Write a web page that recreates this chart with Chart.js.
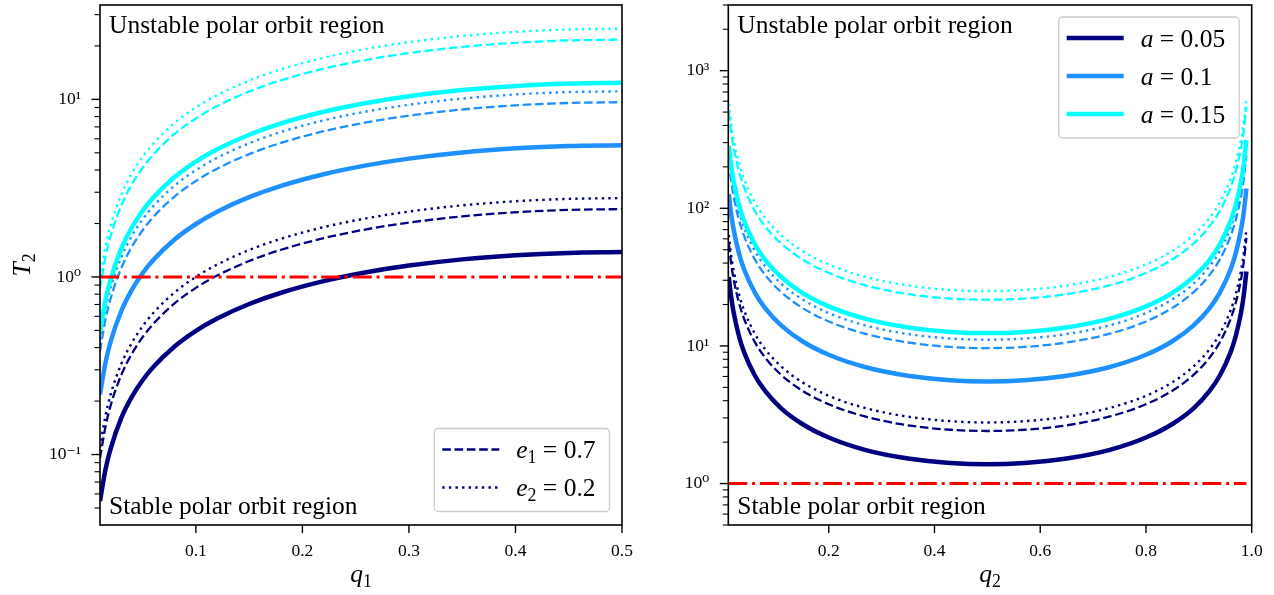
<!DOCTYPE html>
<html>
<head>
<meta charset="utf-8">
<script src="https://cdn.jsdelivr.net/npm/chart.js@4.4.0/dist/chart.umd.min.js"></script>
<style>
  body { margin: 0; background: #fff; }
  #wrap { position: relative; width: 1274px; height: 595px; }
  canvas { position: absolute; top: 0; }
  #left { left: 0; }
  #right { left: 640px; }
</style>
</head>
<body>
<div id="wrap">
  <canvas id="left" width="640" height="595"></canvas>
  <canvas id="right" width="634" height="595"></canvas>
</div>
<script>
// ---- data ----
// left panel: T2 against q1 (solid = a only, dashed = e1 0.7, dotted = e2 0.2)
const q1 = [0.01, 0.015, 0.02, 0.03, 0.04, 0.05, 0.06, 0.08, 0.1, 0.12, 0.15, 0.18, 0.22, 0.26, 0.3, 0.35, 0.4, 0.45, 0.5];
const q1_a005 = [0.0546, 0.0816, 0.108, 0.161, 0.212, 0.262, 0.311, 0.406, 0.497, 0.583, 0.704, 0.815, 0.947, 1.062, 1.159, 1.256, 1.325, 1.366, 1.38];
const q1_a005_e1 = [0.0954, 0.142, 0.189, 0.281, 0.370, 0.458, 0.544, 0.710, 0.868, 1.018, 1.229, 1.423, 1.654, 1.855, 2.024, 2.193, 2.314, 2.386, 2.41];
const q1_a005_e2 = [0.110, 0.164, 0.218, 0.324, 0.427, 0.528, 0.627, 0.818, 1.001, 1.174, 1.418, 1.641, 1.908, 2.139, 2.335, 2.530, 2.669, 2.752, 2.78];
const q1_a01 = [0.218, 0.326, 0.433, 0.643, 0.848, 1.049, 1.245, 1.625, 1.987, 2.332, 2.815, 3.259, 3.789, 4.248, 4.637, 5.023, 5.299, 5.465, 5.52];
const q1_a01_e1 = [0.382, 0.570, 0.756, 1.122, 1.481, 1.832, 2.175, 2.838, 3.470, 4.072, 4.916, 5.691, 6.617, 7.419, 8.098, 8.772, 9.254, 9.544, 9.64];
const q1_a01_e2 = [0.440, 0.656, 0.870, 1.292, 1.705, 2.109, 2.504, 3.268, 3.996, 4.689, 5.661, 6.553, 7.619, 8.543, 9.324, 10.10, 10.66, 10.99, 11.1];
const q1_a015 = [0.491, 0.733, 0.972, 1.443, 1.905, 2.356, 2.797, 3.651, 4.464, 5.238, 6.324, 7.321, 8.511, 9.543, 10.42, 11.28, 11.90, 12.28, 12.4];
const q1_a015_e1 = [0.859, 1.282, 1.701, 2.526, 3.333, 4.123, 4.896, 6.388, 7.812, 9.166, 11.07, 12.81, 14.89, 16.70, 18.23, 19.75, 20.83, 21.48, 21.7];
const q1_a015_e2 = [0.990, 1.478, 1.960, 2.910, 3.840, 4.750, 5.640, 7.360, 9.000, 10.56, 12.75, 14.76, 17.16, 19.24, 21.00, 22.75, 24.00, 24.75, 25.0];

// right panel: T2 against q2
const q2 = [0.011, 0.015, 0.02, 0.03, 0.04, 0.06, 0.08, 0.11, 0.15, 0.2, 0.27, 0.35, 0.43, 0.5, 0.57, 0.65, 0.73, 0.8, 0.85, 0.89, 0.92, 0.94, 0.96, 0.97, 0.98, 0.985, 0.99];
const q2_a005 = [31.7, 23.35, 17.6, 11.86, 8.98, 6.12, 4.69, 3.52, 2.71, 2.16, 1.75, 1.52, 1.41, 1.38, 1.41, 1.52, 1.75, 2.16, 2.71, 3.52, 4.69, 6.12, 8.98, 11.86, 17.6, 23.35, 34.8];
const q2_a005_e1 = [55.4, 40.8, 30.7, 20.7, 15.7, 10.7, 8.19, 6.16, 4.73, 3.77, 3.06, 2.65, 2.46, 2.41, 2.46, 2.65, 3.06, 3.77, 4.73, 6.16, 8.19, 10.7, 15.7, 20.7, 30.7, 40.8, 60.9];
const q2_a005_e2 = [63.9, 47.0, 35.5, 23.9, 18.1, 12.3, 9.44, 7.10, 5.45, 4.34, 3.53, 3.06, 2.84, 2.78, 2.84, 3.06, 3.53, 4.34, 5.45, 7.10, 9.44, 12.3, 18.1, 23.9, 35.5, 47.0, 70.2];
const q2_a01 = [126.8, 93.4, 70.4, 47.4, 35.9, 24.5, 18.75, 14.10, 10.82, 8.63, 7.00, 6.07, 5.63, 5.52, 5.63, 6.07, 7.00, 8.63, 10.82, 14.10, 18.75, 24.5, 35.9, 47.4, 70.4, 93.4, 139.4];
const q2_a01_e1 = [221.5, 163.1, 123.0, 82.8, 62.8, 42.7, 32.7, 24.6, 18.9, 15.06, 12.22, 10.59, 9.83, 9.64, 9.83, 10.59, 12.22, 15.06, 18.9, 24.6, 32.7, 42.7, 62.8, 82.8, 123.0, 163.1, 243.4];
const q2_a01_e2 = [255.1, 187.8, 141.6, 95.4, 72.3, 49.2, 37.7, 28.3, 21.8, 17.34, 14.07, 12.20, 11.32, 11.1, 11.32, 12.20, 14.07, 17.34, 21.8, 28.3, 37.7, 49.2, 72.3, 95.4, 141.6, 187.8, 280.3];
const q2_a015 = [285.0, 209.8, 158.2, 106.5, 80.7, 55.0, 42.1, 31.7, 24.3, 19.38, 15.72, 13.63, 12.65, 12.4, 12.65, 13.63, 15.72, 19.38, 24.3, 31.7, 42.1, 55.0, 80.7, 106.5, 158.2, 209.8, 313.1];
const q2_a015_e1 = [498.7, 367.2, 276.8, 186.4, 141.3, 96.2, 73.7, 55.4, 42.6, 33.9, 27.5, 23.8, 22.1, 21.7, 22.1, 23.8, 27.5, 33.9, 42.6, 55.4, 73.7, 96.2, 141.3, 186.4, 276.8, 367.2, 547.9];
const q2_a015_e2 = [574.5, 423.0, 318.9, 214.8, 162.8, 110.8, 84.9, 63.9, 49.0, 39.1, 31.7, 27.5, 25.5, 25.0, 25.5, 27.5, 31.7, 39.1, 49.0, 63.9, 84.9, 110.8, 162.8, 214.8, 318.9, 423.0, 631.0];

// T2 = 1 threshold
const thresholdX1 = [0.01, 0.5];
const thresholdX2 = [0.01, 0.99];
const thresholdY = [1, 1];

// ticks
const q1Ticks = [0.1, 0.2, 0.3, 0.4, 0.5];
const q2Ticks = [0.2, 0.4, 0.6, 0.8, 1.0];
const y1Decades = [0.1, 1, 10];
const y2Decades = [1, 10, 100, 1000];

const SERIF = '"Liberation Serif", "Times New Roman", "DejaVu Serif", serif';
const NAVY = '#000080', BLUE = '#1e90ff', CYAN = '#00ffff', RED = '#ff0000';
const SOLID = { width: 4.5, dash: [] };
const DASHED = { width: 2.3, dash: [8.6, 3.7] };
const DOTTED = { width: 2.4, dash: [2.4, 4.2] };
const DASHDOT = { width: 3, dash: [19, 4.8, 3, 4.8] };

const SUP = { '-': '\u207b', '0': '\u2070', '1': '\u00b9', '2': '\u00b2', '3': '\u00b3' };
function decadeLabel(v) {
  const e = Math.round(Math.log10(v));
  return '10' + String(e).split('').map(c => SUP[c]).join('');
}

function series(xs, ys, color, style) {
  return {
    data: xs.map((x, i) => ({ x: x, y: ys[i] })),
    borderColor: color,
    borderWidth: style.width,
    borderDash: style.dash,
    pointRadius: 0,
    fill: false,
    cubicInterpolationMode: 'monotone'
  };
}

function withOrder(list) {
  // first plotted at the bottom, like matplotlib
  list.forEach((d, i) => { d.order = list.length - i; });
  return list;
}

function richWidth(ctx, parts, size) {
  let w = 0;
  parts.forEach(([t, k]) => {
    const s = k === 'sub' ? size * 0.7 : size;
    ctx.font = (k === 'i' ? 'italic ' : '') + s + 'px ' + SERIF;
    w += ctx.measureText(t).width;
  });
  return w;
}

function drawRich(ctx, parts, x, y, size) {
  parts.forEach(([t, k]) => {
    const s = k === 'sub' ? size * 0.7 : size;
    ctx.font = (k === 'i' ? 'italic ' : '') + s + 'px ' + SERIF;
    ctx.fillText(t, x, k === 'sub' ? y + size * 0.2 : y);
    x += ctx.measureText(t).width;
  });
}

function roundRect(ctx, x, y, w, h, r) {
  ctx.beginPath();
  ctx.moveTo(x + r, y);
  ctx.arcTo(x + w, y, x + w, y + h, r);
  ctx.arcTo(x + w, y + h, x, y + h, r);
  ctx.arcTo(x, y + h, x, y, r);
  ctx.arcTo(x, y, x + w, y, r);
  ctx.closePath();
}

// frame, tick marks, axis titles, region notes and the inner legend
const decor = {
  id: 'decor',
  afterDraw(chart, args, opts) {
    const ctx = chart.ctx, a = chart.chartArea;
    const xs = chart.scales.x, ys = chart.scales.y;
    ctx.save();
    ctx.strokeStyle = '#000';

    ctx.lineWidth = 1.4;
    xs.ticks.forEach(t => {
      const x = xs.getPixelForValue(t.value);
      ctx.beginPath(); ctx.moveTo(x, a.bottom); ctx.lineTo(x, a.bottom + 8); ctx.stroke();
    });
    const e0 = Math.floor(Math.log10(ys.min)), e1 = Math.ceil(Math.log10(ys.max));
    for (let e = e0; e <= e1; e++) {
      for (let k = 1; k <= 9; k++) {
        const v = k * Math.pow(10, e);
        if (v < ys.min * 0.999 || v > ys.max * 1.001) continue;
        const y = ys.getPixelForValue(v);
        ctx.lineWidth = k === 1 ? 1.4 : 1.1;
        ctx.beginPath(); ctx.moveTo(a.left, y); ctx.lineTo(a.left - (k === 1 ? 8.5 : 5.5), y); ctx.stroke();
      }
    }

    ctx.lineWidth = 1.6;
    ctx.strokeRect(a.left, a.top, a.right - a.left, a.bottom - a.top);

    ctx.fillStyle = '#000';
    ctx.textBaseline = 'alphabetic';
    ctx.textAlign = 'left';

    // axis titles
    const ts = 25.5;
    const xw = richWidth(ctx, opts.xTitle, ts);
    drawRich(ctx, opts.xTitle, (a.left + a.right) / 2 - xw / 2, 582, ts);
    if (opts.yTitle) {
      const yw = richWidth(ctx, opts.yTitle, ts);
      ctx.save();
      ctx.translate(30, (a.top + a.bottom) / 2);
      ctx.rotate(-Math.PI / 2);
      drawRich(ctx, opts.yTitle, -yw / 2, 0, ts);
      ctx.restore();
    }

    ctx.font = '25.5px ' + SERIF;
    ctx.fillText(opts.topNote, a.left + 9, a.top + 28);
    ctx.fillText(opts.bottomNote, a.left + 9, a.bottom - 11);

    const lg = opts.legend, fs = 25.5;
    const tw = Math.max(...lg.items.map(it => richWidth(ctx, it.label, fs)));
    const bw = 82 + tw + 14, bh = 21 + 38 * (lg.items.length - 1) + 24;
    const bx = a.right - 12.5 - bw;
    const by = lg.corner === 'top' ? a.top + 12 : a.bottom - 13.5 - bh;
    roundRect(ctx, bx, by, bw, bh, 4);
    ctx.fillStyle = 'rgba(255,255,255,0.85)';
    ctx.fill();
    ctx.strokeStyle = '#cccccc';
    ctx.lineWidth = 1.3;
    ctx.stroke();
    lg.items.forEach((it, i) => {
      const ry = by + 21 + 38 * i;
      ctx.strokeStyle = it.color;
      ctx.lineWidth = it.style.width;
      ctx.setLineDash(it.style.dash);
      ctx.beginPath(); ctx.moveTo(bx + 8, ry); ctx.lineTo(bx + 65, ry); ctx.stroke();
      ctx.setLineDash([]);
      ctx.fillStyle = '#000';
      drawRich(ctx, it.label, bx + 82, ry + 8.5, fs);
    });
    ctx.restore();
  }
};

function makeChart(id, cfg) {
  const tickFont = { family: SERIF, size: 17.5 };
  return new Chart(document.getElementById(id), {
    type: 'line',
    data: { datasets: cfg.datasets },
    plugins: [decor],
    options: {
      responsive: false,
      animation: false,
      events: [],
      layout: { padding: { left: 0, top: 5, right: cfg.padRight, bottom: 0 } },
      plugins: {
        legend: { display: false },
        tooltip: { enabled: false },
        decor: {
          topNote: 'Unstable polar orbit region',
          bottomNote: 'Stable polar orbit region',
          xTitle: cfg.xTitle,
          yTitle: cfg.yTitle,
          legend: cfg.legend
        }
      },
      scales: {
        x: {
          type: 'linear',
          min: cfg.xMin, max: cfg.xMax,
          grid: { display: false, drawTicks: false },
          border: { display: false },
          afterBuildTicks: s => { s.ticks = cfg.xTicks.map(v => ({ value: v })); },
          ticks: { autoSkip: false, maxRotation: 0, padding: 16, color: '#000', font: tickFont,
                   callback: v => Number(v).toFixed(1) },
          title: { display: false },
          afterFit: s => { s.height = 70; s.paddingLeft = 0; s.paddingRight = 0; }
        },
        y: {
          type: 'logarithmic',
          min: cfg.yMin, max: cfg.yMax,
          grid: { display: false, drawTicks: false },
          border: { display: false },
          afterBuildTicks: s => { s.ticks = cfg.yTicks.map(v => ({ value: v, major: true })); },
          ticks: { autoSkip: false, padding: 19, color: '#000', font: tickFont, callback: v => decadeLabel(v) },
          title: { display: false },
          afterFit: s => { s.width = cfg.yWidth; s.paddingTop = 0; s.paddingBottom = 0; }
        }
      }
    }
  });
}

makeChart('left', {
  xMin: 0.01, xMax: 0.5, yMin: 0.0401, yMax: 34,
  xTicks: q1Ticks, yTicks: y1Decades,
  xTitle: [['q', 'i'], ['1', 'sub']],
  yTitle: [['T', 'i'], ['2', 'sub']],
  yWidth: 100, padRight: 18,
  datasets: withOrder([
    series(q1, q1_a005, NAVY, SOLID),
    series(q1, q1_a005_e1, NAVY, DASHED),
    series(q1, q1_a005_e2, NAVY, DOTTED),
    series(q1, q1_a01, BLUE, SOLID),
    series(q1, q1_a01_e1, BLUE, DASHED),
    series(q1, q1_a01_e2, BLUE, DOTTED),
    series(q1, q1_a015, CYAN, SOLID),
    series(q1, q1_a015_e1, CYAN, DASHED),
    series(q1, q1_a015_e2, CYAN, DOTTED),
    series(thresholdX1, thresholdY, RED, DASHDOT)
  ]),
  legend: {
    corner: 'bottom',
    items: [
      { color: NAVY, style: DASHED, label: [['e', 'i'], ['1', 'sub'], [' = 0.7', '']] },
      { color: NAVY, style: DOTTED, label: [['e', 'i'], ['2', 'sub'], [' = 0.2', '']] }
    ]
  }
});

makeChart('right', {
  xMin: 0.01, xMax: 1.0, yMin: 0.5, yMax: 3000,
  xTicks: q2Ticks, yTicks: y2Decades,
  xTitle: [['q', 'i'], ['2', 'sub']],
  yTitle: null,
  yWidth: 88.3, padRight: 22.3,
  datasets: withOrder([
    series(q2, q2_a005, NAVY, SOLID),
    series(q2, q2_a005_e1, NAVY, DASHED),
    series(q2, q2_a005_e2, NAVY, DOTTED),
    series(q2, q2_a01, BLUE, SOLID),
    series(q2, q2_a01_e1, BLUE, DASHED),
    series(q2, q2_a01_e2, BLUE, DOTTED),
    series(q2, q2_a015, CYAN, SOLID),
    series(q2, q2_a015_e1, CYAN, DASHED),
    series(q2, q2_a015_e2, CYAN, DOTTED),
    series(thresholdX2, thresholdY, RED, DASHDOT)
  ]),
  legend: {
    corner: 'top',
    items: [
      { color: NAVY, style: SOLID, label: [['a', 'i'], [' = 0.05', '']] },
      { color: BLUE, style: SOLID, label: [['a', 'i'], [' = 0.1', '']] },
      { color: CYAN, style: SOLID, label: [['a', 'i'], [' = 0.15', '']] }
    ]
  }
});
</script>
</body>
</html>
